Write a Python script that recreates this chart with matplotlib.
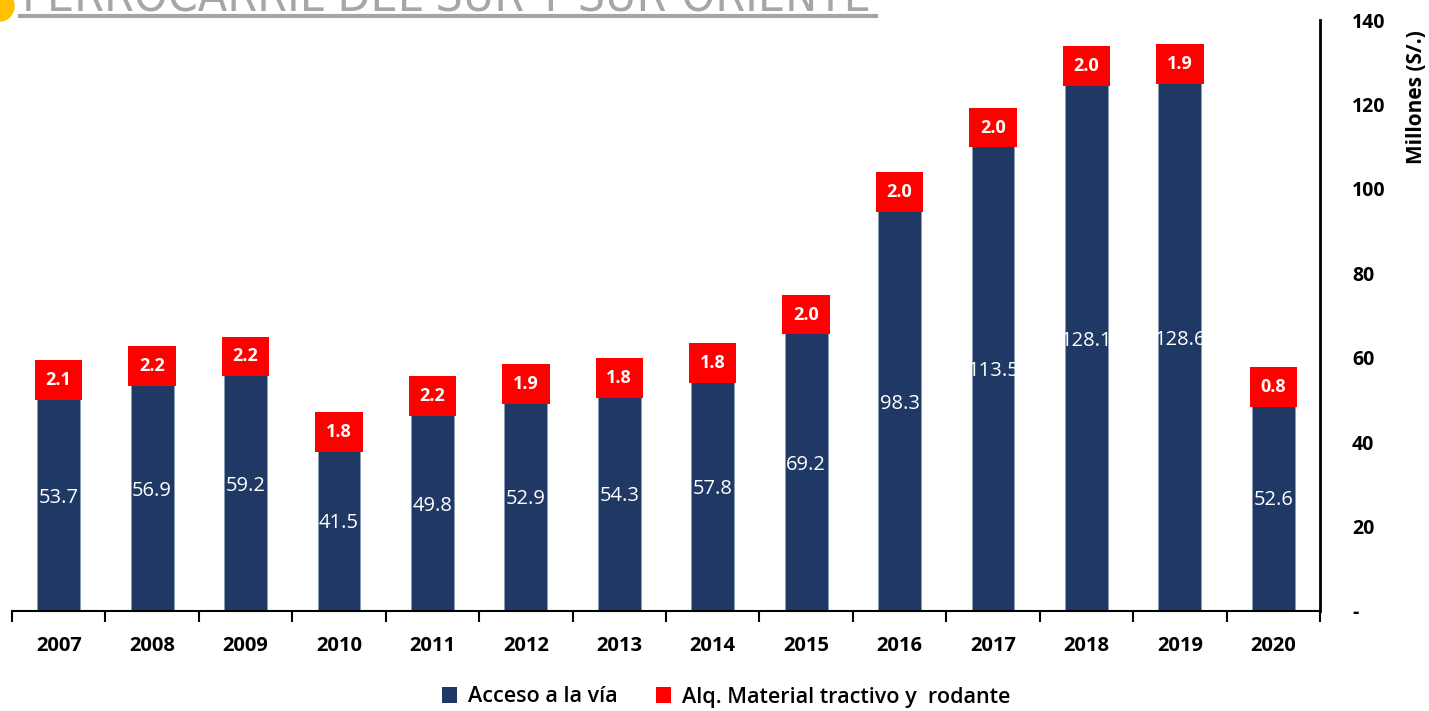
import matplotlib
matplotlib.use("Agg")
import matplotlib.pyplot as plt
from matplotlib.patches import Ellipse, Patch
from matplotlib.lines import Line2D

years = ["2007", "2008", "2009", "2010", "2011", "2012", "2013",
         "2014", "2015", "2016", "2017", "2018", "2019", "2020"]
acceso = [53.7, 56.9, 59.2, 41.5, 49.8, 52.9, 54.3, 57.8, 69.2, 98.3, 113.5, 128.1, 128.6, 52.6]
alquiler = [2.1, 2.2, 2.2, 1.8, 2.2, 1.9, 1.8, 1.8, 2.0, 2.0, 2.0, 2.0, 1.9, 0.8]
yticks = [0, 20, 40, 60, 80, 100, 120, 140]
ytick_labels = ["-", "20", "40", "60", "80", "100", "120", "140"]

NAVY = "#203864"
RED = "#FF0000"
plt.rcParams["font.family"] = ["Open Sans", "DejaVu Sans"]

fig = plt.figure(figsize=(14.29, 7.11), dpi=100)
ax = fig.add_axes([12 / 1429, 1 - 611 / 711, (1320 - 12) / 1429, (611 - 20) / 711])

x = list(range(len(years)))
ax.bar(x, acceso, width=0.46, color=NAVY, edgecolor="#8A9BB8", linewidth=0.6, zorder=2)
ax.bar(x, alquiler, width=0.46, bottom=acceso, color=RED, zorder=2)

for i in x:
    ax.text(i, acceso[i] / 2, f"{acceso[i]:.1f}", ha="center", va="center",
            color="white", fontsize=14.5, zorder=3)
    ax.text(i, acceso[i] + alquiler[i] / 2, f"{alquiler[i]:.1f}", ha="center", va="center",
            color="white", fontsize=13, fontweight="bold", zorder=4,
            bbox=dict(boxstyle="square,pad=0.6", facecolor=RED, edgecolor="none"))

ax.set_xlim(-0.5, len(years) - 0.5)
ax.set_ylim(0, 140)
ax.set_yticks(yticks)
ax.set_yticklabels(ytick_labels)
ax.yaxis.tick_right()
ax.tick_params(axis="y", length=0, pad=23, labelsize=14)
for lab in ax.get_yticklabels():
    lab.set_fontweight("bold")
    lab.set_horizontalalignment("left")

ax.set_xticks(x)
ax.set_xticklabels(years, fontsize=14.5, fontweight="bold")
ax.tick_params(axis="x", length=0, pad=18)
ax.set_xticks([i - 0.5 for i in range(len(years) + 1)], minor=True)
ax.tick_params(axis="x", which="minor", direction="out", length=8, width=1.5)

for side in ["top", "left"]:
    ax.spines[side].set_visible(False)
ax.spines["bottom"].set_linewidth(1.5)
ax.spines["right"].set_linewidth(2)

ax.yaxis.set_label_position("right")
ax.set_ylabel("Millones (S/.)", fontsize=15, fontweight="bold")
ax.yaxis.set_label_coords(1.066, 0.87)

handles = [Patch(facecolor=NAVY, label="Acceso a la vía"),
           Patch(facecolor=RED, label="Alq. Material tractivo y  rodante")]
fig.legend(handles=handles, loc="center", bbox_to_anchor=(0.508, 1 - 697 / 711), ncol=2,
           frameon=False, handlelength=0.7, handleheight=0.7, handletextpad=0.5,
           columnspacing=1.8, prop=dict(size=15.5, weight="semibold"))

# title, cut off at the top edge as in the source slide
fig.text(22 / 1429, 1 - 11 / 711, "FERROCARRIL DEL SUR Y SUR-ORIENTE",
         family="DejaVu Sans", stretch="condensed", fontsize=34.5,
         color="#A6A6A6", ha="left", va="baseline")
fig.add_artist(Line2D([20 / 1429, 876 / 1429], [1 - 16 / 711] * 2, color="#A6A6A6",
                      linewidth=3, transform=fig.transFigure))
fig.add_artist(Ellipse((0, 1 - 6 / 711), 28 / 1429, 30 / 711, color="#FFC000",
                       transform=fig.transFigure))

fig.savefig("out.png", dpi=100)
